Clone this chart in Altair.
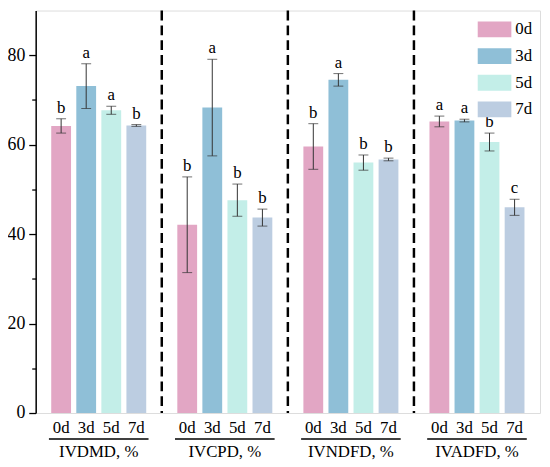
import altair as alt
import pandas as pd

groups = ["IVDMD, %", "IVCPD, %", "IVNDFD, %", "IVADFD, %"]
days = ["0d", "3d", "5d", "7d"]
colors = ["#E2A6C4", "#8FBFD7", "#C3EEE8", "#BCCDE1"]

means = {
    "IVDMD, %": [64.2, 73.1, 67.7, 64.3],
    "IVCPD, %": [42.1, 68.3, 47.6, 43.7],
    "IVNDFD, %": [59.6, 74.5, 56.0, 56.7],
    "IVADFD, %": [65.2, 65.4, 60.6, 46.0],
}
errs = {
    "IVDMD, %": [1.6, 5.0, 0.9, 0.2],
    "IVCPD, %": [10.7, 10.8, 3.6, 1.9],
    "IVNDFD, %": [5.1, 1.4, 1.7, 0.3],
    "IVADFD, %": [1.2, 0.3, 2.0, 1.8],
}
letters = {
    "IVDMD, %": ["b", "a", "a", "b"],
    "IVCPD, %": ["b", "a", "b", "b"],
    "IVNDFD, %": ["b", "a", "b", "b"],
    "IVADFD, %": ["a", "a", "b", "c"],
}

rows = []
for g in groups:
    for i, d in enumerate(days):
        m = means[g][i]
        e = errs[g][i]
        rows.append({"group": g, "day": d, "mean": m, "lo": m - e, "hi": m + e,
                     "letter": letters[g][i]})
df = pd.DataFrame(rows)
gdf = pd.DataFrame({"group": groups})
sep_df = pd.DataFrame({"group": groups[1:]})

FONT = "Liberation Serif, Times New Roman, DejaVu Serif, serif"
W, H = 510, 407

xscale = alt.Scale(domain=groups, paddingInner=0, paddingOuter=0)
xoff = alt.XOffset("day:N", scale=alt.Scale(domain=days, paddingInner=0.21, paddingOuter=0.62))
yscale = alt.Scale(domain=[0, 90], nice=False)

x_axis = alt.Axis(title=None, ticks=False, domain=False, labelPadding=31,
                  labelFont=FONT, labelFontSize=17, labelColor="black", labelAngle=0)
y_axis = alt.Axis(title=None, values=[0, 10, 20, 30, 40, 50, 60, 70, 80],
                  labelExpr="datum.value % 20 === 0 ? datum.label : ''",
                  tickSize={"condition": {"test": "datum.value % 20 === 0", "value": 7}, "value": 4},
                  tickColor="black", tickWidth=1.3, domainColor="black", domainWidth=1.5,
                  labelFont=FONT, labelFontSize=18, labelColor="black", labelPadding=4,
                  grid=False)

base = alt.Chart(df)

bars = base.mark_bar().encode(
    x=alt.X("group:N", scale=xscale, axis=x_axis, sort=groups),
    xOffset=xoff,
    y=alt.Y("mean:Q", scale=yscale, axis=y_axis),
    color=alt.Color("day:N", scale=alt.Scale(domain=days, range=colors),
                    legend=alt.Legend(title=None, orient="none", legendX=447, legendY=2,
                                      symbolType="M-1,-0.47H1V0.47H-1Z", symbolSize=1156,
                                      symbolStrokeWidth=0, labelFont=FONT, labelFontSize=17,
                                      labelColor="black", labelOffset=4, rowPadding=2)),
)

err_line = base.mark_rule(color="#333333", strokeWidth=1).encode(
    x=alt.X("group:N", scale=xscale, sort=groups),
    xOffset=xoff,
    y="lo:Q",
    y2="hi:Q",
)
cap_hi = base.mark_tick(color="#333333", thickness=1, size=10).encode(
    x=alt.X("group:N", scale=xscale, sort=groups),
    xOffset=xoff,
    y="hi:Q",
)
cap_lo = base.mark_tick(color="#333333", thickness=1, size=10).encode(
    x=alt.X("group:N", scale=xscale, sort=groups),
    xOffset=xoff,
    y="lo:Q",
)
letter_text = base.mark_text(font=FONT, fontSize=17, baseline="bottom", dy=-2, color="black").encode(
    x=alt.X("group:N", scale=xscale, sort=groups),
    xOffset=xoff,
    y="hi:Q",
    text="letter:N",
)
day_text = base.mark_text(font=FONT, fontSize=17, baseline="alphabetic", color="black").encode(
    x=alt.X("group:N", scale=xscale, sort=groups),
    xOffset=xoff,
    y=alt.value(H + 20),
    text="day:N",
)
underline = alt.Chart(gdf).mark_bar(color="black", width={"band": 0.79}).encode(
    x=alt.X("group:N", scale=xscale, sort=groups),
    y=alt.value(H + 25.5),
    y2=alt.value(H + 27),
)
seps = alt.Chart(sep_df).mark_rule(color="black", strokeWidth=2.5, strokeDash=[10, 5]).encode(
    x=alt.X("group:N", scale=xscale, sort=groups, bandPosition=0),
)

chart = alt.layer(bars, err_line, cap_hi, cap_lo, letter_text, day_text, underline, seps).properties(
    width=W, height=H,
    autosize=alt.AutoSizeParams(type="none"),
    padding={"left": 28, "top": 0, "right": 2, "bottom": 51},
).configure_view(stroke="black", strokeWidth=1.5).configure(background="white")

chart.save("out.html", embed_options={"renderer": "svg", "actions": False})
